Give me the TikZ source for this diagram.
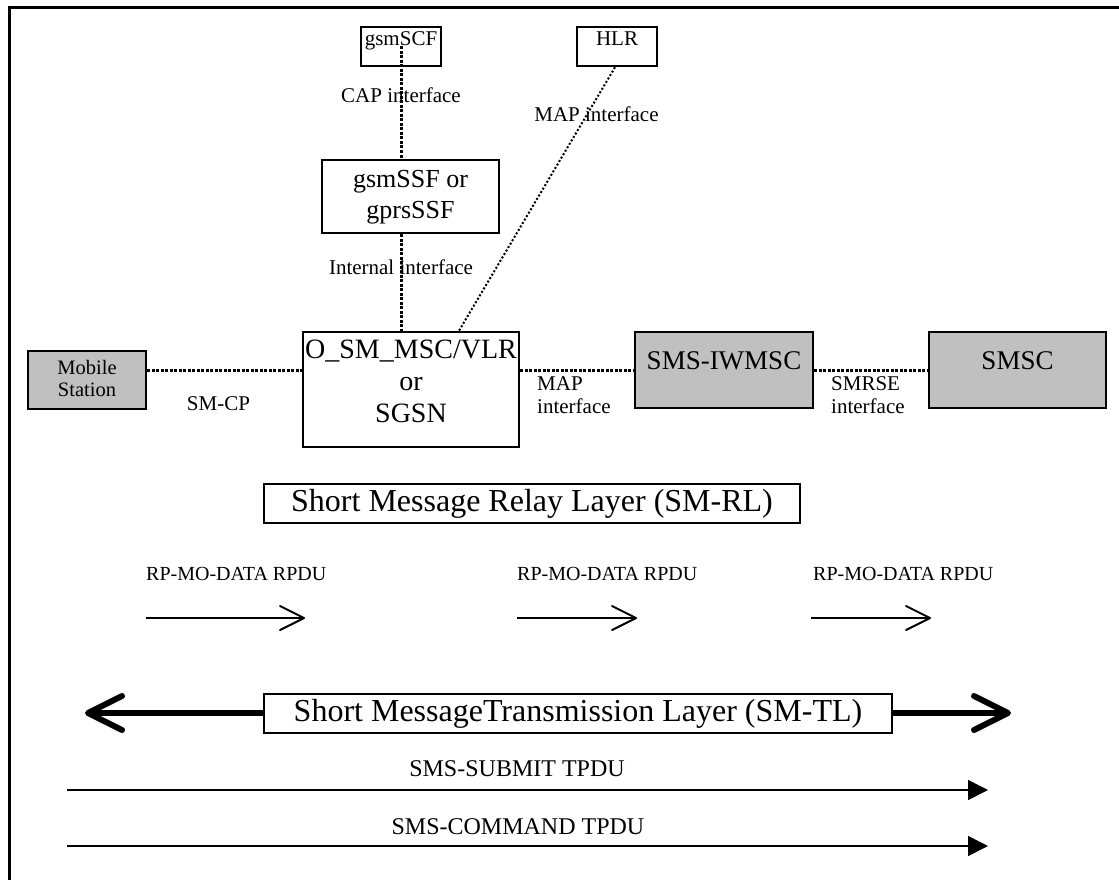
\documentclass[tikz,border=0pt]{standalone}
\usepackage{fontspec}
\setmainfont{Liberation Serif}
\usetikzlibrary{arrows.meta}
\definecolor{boxgrey}{RGB}{192,192,192}
\newcommand\myfs[2]{\fontsize{#1pt}{#2pt}\selectfont}
\begin{document}
\begin{tikzpicture}[x=1pt,y=-1pt,
  box/.style={draw, line width=2.5pt, inner sep=0pt},
  greybox/.style={box, fill=boxgrey},
  layerbox/.style={draw, line width=1.5pt, fill=white, inner sep=0pt, minimum height=39pt, font=\myfs{32}{36}},
  dotbig/.style={line width=3pt, dash pattern=on 3pt off 1.5pt},
  dotthin/.style={line width=2pt, dash pattern=on 2pt off 2pt},
  lbl/.style={inner sep=0pt, font=\myfs{21}{23}},
  rplbl/.style={inner sep=0pt, anchor=base west, font=\myfs{20}{24}},
  tpdulbl/.style={inner sep=0pt, anchor=base, font=\myfs{24}{28}},
  relayarrow/.style={line width=2pt, -{Straight Barb[length=24pt,width=24pt,round]}},
  tlarrow/.style={line width=6pt, {Straight Barb[length=34pt,width=34pt,round]}-{Straight Barb[length=34pt,width=34pt,round]}},
  tpduarrow/.style={line width=1.5pt, -{Triangle[length=20pt,width=20pt]}}
]
\useasboundingbox (0,0) rectangle (1119,880);
\draw[line width=3pt] (9,880) -- (9,8) -- (1119,8);

% boxes
\node[box, minimum width=80pt, minimum height=39pt] (gsmscf) at (401,46.5) {};
\node[box, minimum width=80pt, minimum height=39pt] (hlr) at (617,46.5) {};
\node[box, minimum width=177pt, minimum height=73pt] (gsmssf) at (410.5,196.5) {};
\node[box, minimum width=216pt, minimum height=115pt] (osm) at (411,389.5) {};
\node[greybox, minimum width=118pt, minimum height=58pt] (ms) at (87,380) {};
\node[greybox, minimum width=178pt, minimum height=76pt] (iwmsc) at (724,370) {};
\node[greybox, minimum width=177pt, minimum height=76pt] (smsc) at (1017.5,370) {};

% box texts
\node[inner sep=0pt, anchor=base, font=\myfs{21}{24}] (tscf) at (401,46) {gsmSCF};
\node[inner sep=0pt, anchor=base, font=\myfs{21}{24}] (thlr) at (617,46) {HLR};
\node[inner sep=0pt, anchor=north, align=center, font=\myfs{26}{31}] (tssf) at (410.5,170.5) {gsmSSF or\\gprsSSF};
\node[inner sep=0pt, anchor=north, align=center, font=\myfs{28}{32}] (tosm) at (411,340) {O\_SM\_MSC/VLR\\or\\SGSN};
\node[inner sep=0pt, anchor=north, align=center, font=\myfs{20.5}{22}] (tms) at (87,360) {Mobile\\Station};
\node[inner sep=0pt, anchor=base, font=\myfs{27}{30}] (tiw) at (724,369) {SMS-IWMSC};
\node[inner sep=0pt, anchor=base, font=\myfs{27}{30}] (tsmsc) at (1017.5,369) {SMSC};

% interface labels
\node[lbl, anchor=base] (lcap) at (401,103) {CAP interface};
\node[lbl, anchor=base] (lmap1) at (596.5,122) {MAP interface};
\node[lbl, anchor=base] (lint) at (401,274) {Internal interface};
\node[lbl, anchor=base] (lsmcp) at (218.5,410) {SM-CP};
\node[lbl, anchor=north west, align=left] (lmap2) at (537,376) {MAP\\interface};
\node[lbl, anchor=north west, align=left] (lsmrse) at (831,376) {SMRSE\\interface};

% connectors
\coordinate (cx) at (401,0);
\coordinate (hy) at (0,370);
\draw[dotbig] (gsmscf.center) -- (cx |- gsmssf.north);
\draw[dotbig] (cx |- gsmssf.south) -- (cx |- osm.north);
\draw[dotthin] ([xshift=-2pt]hlr.south) -- ([xshift=48pt]osm.north);
\draw[dotbig] (ms.east |- hy) -- (osm.west |- hy);
\draw[dotbig] (osm.east |- hy) -- (iwmsc.west |- hy);
\draw[dotbig] (iwmsc.east |- hy) -- (smsc.west |- hy);

% relay layer
\node[layerbox, minimum width=536pt] (relay) at (532,503.5) {Short Message Relay Layer (SM-RL)};
\node[rplbl] (rp1) at (146,580) {RP-MO-DATA RPDU};
\node[rplbl] (rp2) at (517,580) {RP-MO-DATA RPDU};
\node[rplbl] (rp3) at (813,580) {RP-MO-DATA RPDU};
\coordinate (a1s) at (146,618); \coordinate (a1e) at (305,618);
\coordinate (a2s) at (517,618); \coordinate (a2e) at (637,618);
\coordinate (a3s) at (811,618); \coordinate (a3e) at (931,618);
\draw[relayarrow] (a1s) -- (a1e);
\draw[relayarrow] (a2s) -- (a2e);
\draw[relayarrow] (a3s) -- (a3e);

% transmission layer
\coordinate (tl) at (85,713); \coordinate (tr) at (1011,713);
\draw[tlarrow] (tl) -- (tr);
\node[layerbox, minimum width=628pt] (trans) at (578,713.5) {Short MessageTransmission Layer (SM-TL)};

\node[tpdulbl] (lsub) at (517,776) {SMS-SUBMIT TPDU};
\node[tpdulbl] (lcmd) at (518,834) {SMS-COMMAND TPDU};
\coordinate (b1s) at (67,790); \coordinate (b1e) at (988,790);
\coordinate (b2s) at (67,846); \coordinate (b2e) at (988,846);
\draw[tpduarrow] (b1s) -- (b1e);
\draw[tpduarrow] (b2s) -- (b2e);
\end{tikzpicture}
\end{document}
